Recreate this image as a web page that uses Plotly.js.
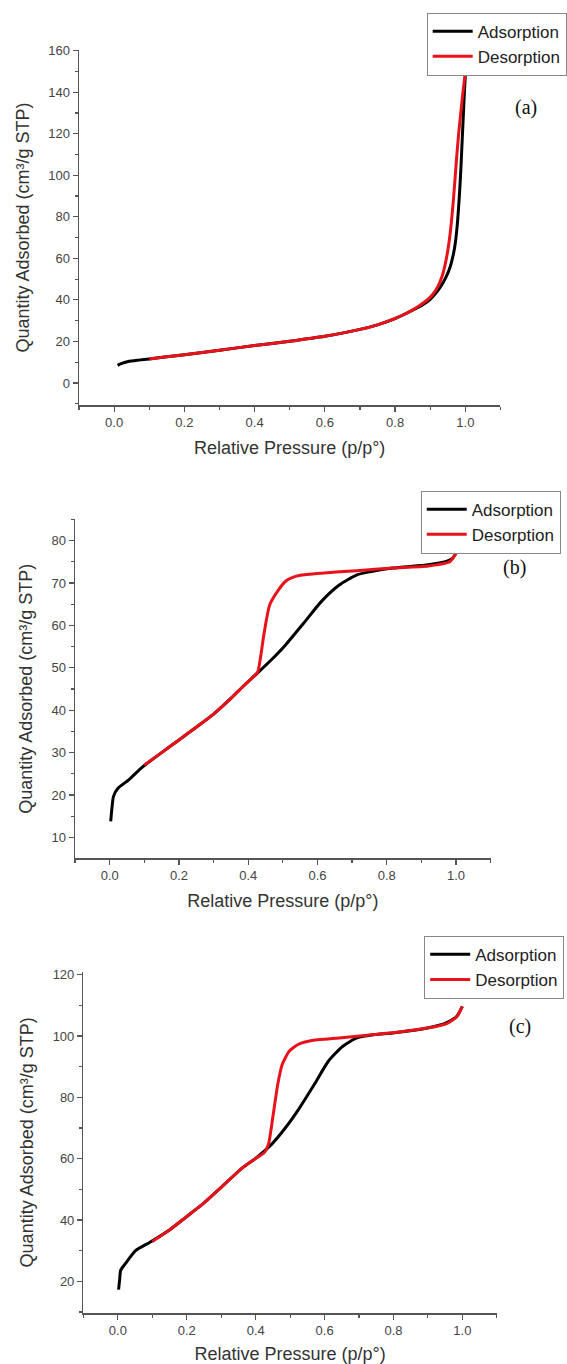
<!DOCTYPE html>
<html>
<head>
<meta charset="utf-8">
<script src="https://cdn.plot.ly/plotly-3.0.1.min.js"></script>
<style>html,body{margin:0;padding:0;background:#fff;}#chart{width:567px;height:1364px;}</style>
</head>
<body>
<div id="chart"></div>
<script>
// ---------- Data ----------
const seriesNames = ['Adsorption', 'Desorption'];
const panelLabels = ['(a)', '(b)', '(c)'];
const xTickVals = [0, 0.2, 0.4, 0.6, 0.8, 1.0];
const xTickText = ['0.0', '0.2', '0.4', '0.6', '0.8', '1.0'];
const yTickValsA = [0, 20, 40, 60, 80, 100, 120, 140, 160];
const yTickValsB = [10, 20, 30, 40, 50, 60, 70, 80];
const yTickValsC = [20, 40, 60, 80, 100, 120];

// Panel (a)
const aAdsX = [0.01, 0.02, 0.04, 0.07, 0.1, 0.15, 0.2, 0.3, 0.4, 0.5, 0.6, 0.7, 0.75, 0.8, 0.85, 0.88, 0.9, 0.915, 0.93, 0.945, 0.957, 0.966, 0.972, 0.978, 0.983, 0.987, 0.99, 0.993, 0.996, 0.998, 1.0];
const aAdsY = [8.5, 9.3, 10.3, 11.0, 11.6, 12.6, 13.6, 15.8, 18.0, 20.1, 22.5, 25.8, 28.0, 31.0, 35.0, 37.8, 40.3, 43.0, 46.5, 51.0, 56.0, 62, 68, 78, 90, 102, 113, 124, 135, 142, 148];
const aDesX = [0.999, 0.996, 0.992, 0.987, 0.981, 0.976, 0.971, 0.966, 0.96, 0.953, 0.945, 0.935, 0.922, 0.907, 0.89, 0.87, 0.845, 0.82, 0.8, 0.75, 0.7, 0.6, 0.5, 0.4, 0.3, 0.2, 0.15, 0.1];
const aDesY = [148, 144, 138, 130, 120, 110, 99, 88, 77, 67, 59, 52, 46.5, 42.6, 39.7, 37.3, 34.7, 32.6, 31.1, 28.0, 25.8, 22.5, 20.1, 18.0, 15.8, 13.6, 12.6, 11.6];

// Panel (b)
const bAdsX = [0.003, 0.006, 0.011, 0.024, 0.055, 0.096, 0.15, 0.2, 0.25, 0.3, 0.35, 0.385, 0.426, 0.467, 0.508, 0.56, 0.611, 0.663, 0.714, 0.756, 0.818, 0.92, 0.97, 0.99, 1.0];
const bAdsY = [13.8, 16.5, 19.7, 21.6, 23.6, 26.7, 30.0, 33.0, 36.0, 39.1, 42.8, 45.6, 48.7, 51.9, 55.4, 60.5, 65.6, 69.5, 71.9, 72.7, 73.5, 74.3, 75.0, 75.8, 77.0];
const bDesX = [1.0, 0.982, 0.92, 0.818, 0.714, 0.611, 0.55, 0.525, 0.508, 0.488, 0.462, 0.446, 0.428, 0.42, 0.385, 0.35, 0.3, 0.25, 0.2, 0.15, 0.1];
const bDesY = [77.0, 75.0, 74.0, 73.5, 72.9, 72.3, 71.8, 71.2, 70.4, 68.4, 64.8, 58.2, 49.1, 48.3, 45.6, 42.8, 39.1, 36.0, 33.0, 30.0, 27.1];

// Panel (c)
const cAdsX = [0.002, 0.005, 0.008, 0.021, 0.052, 0.093, 0.15, 0.197, 0.25, 0.3, 0.363, 0.404, 0.446, 0.487, 0.528, 0.57, 0.611, 0.653, 0.694, 0.746, 0.798, 0.902, 0.953, 0.984, 1.0];
const cAdsY = [17.3, 20.5, 23.6, 25.7, 30.1, 32.8, 36.8, 40.9, 45.6, 50.7, 57.2, 60.5, 64.7, 70.2, 76.7, 84.2, 91.8, 96.7, 99.4, 100.5, 101.0, 102.7, 104.3, 106.5, 109.7];
const cDesX = [1.0, 0.984, 0.953, 0.85, 0.746, 0.642, 0.56, 0.53, 0.51, 0.497, 0.477, 0.464, 0.451, 0.437, 0.425, 0.404, 0.363, 0.3, 0.25, 0.197, 0.15, 0.1];
const cDesY = [109.7, 106.3, 104.0, 101.8, 100.5, 99.4, 98.5, 97.6, 96.3, 95.0, 90.7, 84.2, 74.5, 64.7, 62.0, 60.4, 57.2, 50.7, 45.6, 40.9, 36.8, 33.0];

// ---------- Styling ----------
const W = 567, H = 1364;
const px = v => v / W;
const py = v => 1 - v / H;
const AX_COLOR = '#555';
const SANS = 'Liberation Sans, Arial, sans-serif';
const SERIF = 'Liberation Serif, Times New Roman, serif';
const adsColor = '#000000';
const desColor = '#e8121a';

function line(x, y, name, color, xa, ya, leg) {
  return {
    x: x, y: y, name: name, type: 'scatter', mode: 'lines',
    line: {color: color, width: 3, shape: 'spline', smoothing: 0.6},
    xaxis: xa, yaxis: ya, legend: leg, hoverinfo: 'skip'
  };
}

const data = [
  line(aAdsX, aAdsY, seriesNames[0], adsColor, 'x', 'y', 'legend'),
  line(aDesX, aDesY, seriesNames[1], desColor, 'x', 'y', 'legend'),
  line(bAdsX, bAdsY, seriesNames[0], adsColor, 'x2', 'y2', 'legend2'),
  line(bDesX, bDesY, seriesNames[1], desColor, 'x2', 'y2', 'legend2'),
  line(cAdsX, cAdsY, seriesNames[0], adsColor, 'x3', 'y3', 'legend3'),
  line(cDesX, cDesY, seriesNames[1], desColor, 'x3', 'y3', 'legend3')
];

const common = {
  showline: true, linecolor: AX_COLOR, linewidth: 1.5,
  ticks: 'outside', ticklen: 5, tickwidth: 1.2, tickcolor: AX_COLOR,
  showgrid: false, zeroline: false, mirror: false,
  tickfont: {family: SANS, size: 13, color: '#444'},
  fixedrange: true
};

function xAxis(domain, anchor) {
  return Object.assign({}, common, {
    domain: domain, anchor: anchor, range: [-0.1, 1.1],
    tickmode: 'array', tickvals: xTickVals, ticktext: xTickText,
    minor: {ticks: 'outside', ticklen: 3, tickwidth: 1.2, tickcolor: AX_COLOR, tickmode: 'linear', tick0: -0.1, dtick: 0.1, showgrid: false},
    title: {text: 'Relative Pressure (p/p°)', font: {family: SANS, size: 18, color: '#333'}, standoff: 12}
  });
}
function yAxis(domain, anchor, range, vals, minorStep) {
  return Object.assign({}, common, {
    domain: domain, anchor: anchor, range: range,
    tickmode: 'array', tickvals: vals, ticktext: vals.map(String),
    minor: {ticks: 'outside', ticklen: 3, tickwidth: 1.2, tickcolor: AX_COLOR, tickmode: 'linear', tick0: 0, dtick: minorStep, showgrid: false},
    title: {text: 'Quantity Adsorbed (cm³/g STP)', font: {family: SANS, size: 18, color: '#333'}, standoff: 14}
  });
}

function legendBox(x, y) {
  return {
    x: x, y: y, xanchor: 'left', yanchor: 'top',
    bgcolor: 'rgba(255,255,255,1)', bordercolor: '#888', borderwidth: 1,
    font: {family: SANS, size: 17, color: '#222'},
    tracegroupgap: 0, itemwidth: 40
  };
}

function label(text, x, y) {
  return {text: text, x: x, y: y, xref: 'paper', yref: 'paper', showarrow: false,
          font: {family: SERIF, size: 20, color: '#111'}, xanchor: 'center', yanchor: 'middle'};
}

const layout = {
  width: W, height: H,
  margin: {l: 0, r: 0, t: 0, b: 0},
  paper_bgcolor: '#fff', plot_bgcolor: '#fff',
  showlegend: true,
  xaxis: xAxis([px(80), px(506.7)], 'y'),
  yaxis: yAxis([py(405), py(50)], 'x', [-10.6, 160.3], yTickValsA, 10),
  xaxis2: xAxis([px(76), px(496.7)], 'y2'),
  yaxis2: yAxis([py(858.3), py(519.3)], 'x2', [5.1, 85], yTickValsB, 5),
  xaxis3: xAxis([px(84.5), px(503)], 'y3'),
  yaxis3: yAxis([py(1313), py(971.7)], 'x3', [9.7, 121], yTickValsC, 10),
  legend: legendBox(px(432), py(12.7)),
  legend2: legendBox(px(426), py(490.7)),
  legend3: legendBox(px(429.5), py(935.8)),
  annotations: [
    label(panelLabels[0], px(533), py(107)),
    label(panelLabels[1], px(520.6), py(567)),
    label(panelLabels[2], px(526), py(1026))
  ]
};

Plotly.newPlot('chart', data, layout, {displayModeBar: false, staticPlot: true});
</script>
</body>
</html>
